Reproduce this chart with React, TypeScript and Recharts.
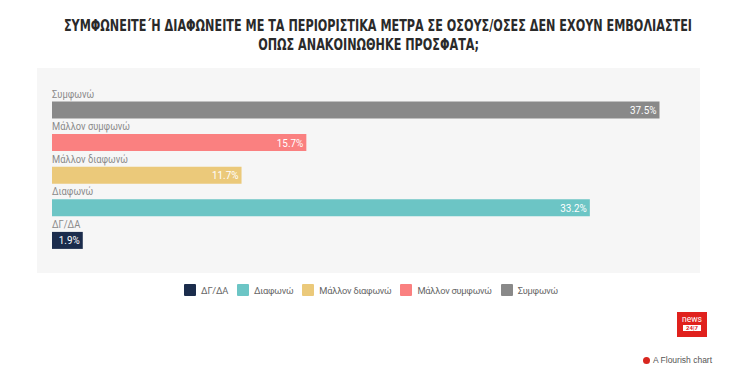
import React from "react";
import { Bar, BarChart, LabelList, Legend, XAxis, YAxis, Cell } from "recharts";

const categories = ["Συμφωνώ", "Μάλλον συμφωνώ", "Μάλλον διαφωνώ", "Διαφωνώ", "ΔΓ/ΔΑ"];
const values = [37.5, 15.7, 11.7, 33.2, 1.9];
const colors = ["#898989", "#fa8080", "#ebc97a", "#6cc5c5", "#1b2c4c"];

const data = categories.map((name, i) => ({ name, value: values[i] }));

const FONT = "Roboto, 'Noto Sans', sans-serif";

const CategoryLabel = (props: any) => {
    const { x, y, value } = props;
    return (
        <text transform={`translate(${x},${y - 4}) scale(0.85,1)`} fill="#8a8a8a" fontSize={11} fontFamily={FONT}>
            {value}
        </text>
    );
};

const ValueLabel = (props: any) => {
    const { x, y, width, height, value } = props;
    return (
        <text
            transform={`translate(${x + width - 3},${y + height / 2 + 4}) scale(0.9,1)`}
            textAnchor="end"
            fill="#fff"
            fontSize={11}
            fontFamily={FONT}
        >
            {`${value}%`}
        </text>
    );
};

const LegendContent = () => {
    const order = [...categories.keys()].reverse();
    return (
        <div style={{ display: "flex", justifyContent: "center", gap: 9, fontFamily: FONT, fontSize: 9.3, letterSpacing: -0.25, color: "#666" }}>
            {order.map((i) => (
                <div key={categories[i]} style={{ display: "flex", alignItems: "center" }}>
                    <span style={{ display: "inline-block", width: 12, height: 12, background: colors[i], marginRight: 5, borderRadius: 1 }} />
                    <span>{categories[i]}</span>
                </div>
            ))}
        </div>
    );
};

export default function App() {
    return (
        <div style={{ position: "absolute", left: 0, top: 0, width: 734, height: 379, background: "#fff", overflow: "hidden" }}>
            {/* title */}
            <div
                style={{
                    position: "absolute",
                    top: 17,
                    left: 0,
                    width: 734,
                    textAlign: "center",
                    whiteSpace: "nowrap",
                    transform: "scaleX(0.83)",
                    transformOrigin: "376px 0",
                    fontFamily: "'DejaVu Sans Condensed', 'DejaVu Sans', sans-serif",
                    fontWeight: 700,
                    fontSize: 15,
                    lineHeight: "19px",
                    color: "#2a2a2a",
                }}
            >
                ΣΥΜΦΩΝΕΙΤΕ΄Η ΔΙΑΦΩΝΕΙΤΕ ΜΕ ΤΑ ΠΕΡΙΟΡΙΣΤΙΚΑ ΜΕΤΡΑ ΣΕ ΟΣΟΥΣ/ΟΣΕΣ ΔΕΝ ΕΧΟΥΝ ΕΜΒΟΛΙΑΣΤΕΙ
                <br />
                ΟΠΩΣ ΑΝΑΚΟΙΝΩΘΗΚΕ ΠΡΟΣΦΑΤΑ;
            </div>

            {/* plot panel */}
            <div style={{ position: "absolute", left: 37, top: 68, width: 663, height: 205, background: "#f6f6f6" }} />

            <div style={{ position: "absolute", left: 0, top: 0 }}>
                <BarChart
                    width={734}
                    height={379}
                    layout="vertical"
                    data={data}
                    margin={{ top: 93.5, bottom: 110.5, left: 52, right: 34 }}
                >
                    <XAxis type="number" domain={[0, 40]} hide />
                    <YAxis type="category" dataKey="name" hide />
                    <Legend
                        verticalAlign="bottom"
                        wrapperStyle={{ top: 284, left: 0, width: 742 }}
                        content={<LegendContent />}
                    />
                    <Bar dataKey="value" barSize={17} isAnimationActive={false}>
                        {data.map((d, i) => (
                            <Cell key={d.name} fill={colors[i]} />
                        ))}
                        <LabelList dataKey="name" content={<CategoryLabel />} />
                        <LabelList dataKey="value" content={<ValueLabel />} />
                    </Bar>
                </BarChart>
            </div>

            {/* logo */}
            <div
                style={{
                    position: "absolute",
                    left: 677,
                    top: 312,
                    width: 30,
                    height: 25,
                    background: "#e0211d",
                    color: "#fff",
                    fontFamily: FONT,
                    textAlign: "center",
                    lineHeight: 1,
                }}
            >
                <div style={{ fontSize: 8.5, marginTop: 3 }}>news</div>
                <div style={{ fontSize: 6, fontWeight: 700, background: "#fff", color: "#e0211d", margin: "1px 6px 0" }}>24|7</div>
            </div>

            {/* credit */}
            <div
                style={{
                    position: "absolute",
                    left: 643,
                    top: 355,
                    fontFamily: "'Liberation Sans', Arial, sans-serif",
                    fontSize: 8.5,
                    color: "#555",
                    display: "flex",
                    alignItems: "center",
                }}
            >
                <span style={{ display: "inline-block", width: 7, height: 7, borderRadius: 4, background: "#d8261f", marginRight: 3 }} />
                A Flourish chart
            </div>
        </div>
    );
}
